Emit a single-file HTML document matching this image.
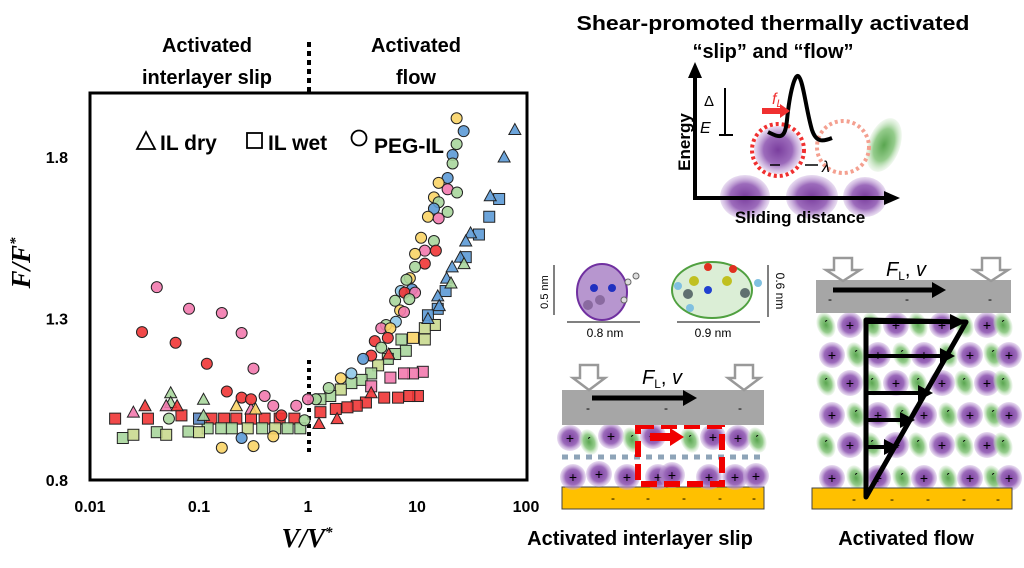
<!DOCTYPE html>
<html><head><meta charset="utf-8"><style>
html,body{margin:0;padding:0;background:#fff;}
svg{display:block;font-family:"Liberation Sans",sans-serif;}
.b{font-weight:bold;}
</style></head><body>
<svg id="fig" width="1024" height="568" viewBox="0 0 1024 568">
<defs>
<radialGradient id="pur" cx="50%" cy="50%" r="50%"><stop offset="0" stop-color="#7a3e9e"/><stop offset="0.6" stop-color="#9c6bbb"/><stop offset="1" stop-color="#c7a9dc" stop-opacity="0.4"/></radialGradient>
<radialGradient id="grn" cx="50%" cy="50%" r="50%"><stop offset="0" stop-color="#5aa650"/><stop offset="0.6" stop-color="#95cc8c"/><stop offset="1" stop-color="#cfe8ca" stop-opacity="0.3"/></radialGradient>
</defs>
<g>
<text class="b" x="207" y="52" font-size="20" text-anchor="middle">Activated</text>
<text class="b" x="207" y="84" font-size="20" text-anchor="middle">interlayer slip</text>
<text class="b" x="416" y="52" font-size="20" text-anchor="middle">Activated</text>
<text class="b" x="416" y="84" font-size="20" text-anchor="middle">flow</text>
<line x1="309" y1="42" x2="309" y2="93" stroke="#000" stroke-width="4" stroke-dasharray="5,4"/>
</g>
<rect x="90" y="93" width="437" height="387" fill="none" stroke="#000" stroke-width="3"/>
<g id="yticks"></g>
<g id="xticks"></g>
<text x="30" y="263" font-size="27" font-weight="bold" font-style="italic" font-family="Liberation Serif,serif" text-anchor="middle" transform="rotate(-90 30 263)">F/F<tspan font-size="15" dy="-10">*</tspan></text>
<text x="307" y="547" font-size="27" font-weight="bold" font-style="italic" font-family="Liberation Serif,serif" text-anchor="middle">V/V<tspan font-size="15" dy="-10">*</tspan></text>
<line x1="309" y1="360" x2="309" y2="455" stroke="#000" stroke-width="4" stroke-dasharray="4,4"/>
<g id="marks"></g>
<g>
<polygon points="137,149 146,132 155,149" fill="none" stroke="#000" stroke-width="1.8"/>
<text class="b" x="160" y="150" font-size="21">IL dry</text>
<rect x="247" y="133" width="15" height="15" fill="none" stroke="#000" stroke-width="1.8"/>
<text class="b" x="268" y="150" font-size="21">IL wet</text>
<circle cx="359" cy="138" r="7.5" fill="none" stroke="#000" stroke-width="1.8"/>
<text class="b" x="374" y="153" font-size="21">PEG-IL</text>
</g>

<text class="b" x="773" y="30" font-size="20" text-anchor="middle" textLength="393" lengthAdjust="spacingAndGlyphs">Shear-promoted thermally activated</text>
<text class="b" x="773" y="58" font-size="20" text-anchor="middle">“slip” and “flow”</text>
<g>
<ellipse cx="745" cy="197" rx="25" ry="22" fill="url(#pur)"/>
<ellipse cx="812" cy="197" rx="26" ry="22" fill="url(#pur)"/>
<ellipse cx="865" cy="197" rx="22" ry="20" fill="url(#pur)"/>
<ellipse cx="884" cy="145" rx="16" ry="28" transform="rotate(20 884 145)" fill="url(#grn)"/>
<circle cx="778" cy="150" r="24" fill="url(#pur)"/>
<circle cx="778" cy="150" r="26" fill="none" stroke="#f03030" stroke-width="4" stroke-dasharray="3,3"/>
<circle cx="843" cy="147" r="26" fill="none" stroke="#f4a090" stroke-width="4" stroke-dasharray="3,3"/>
<path d="M768,132 C780,138 785,140 787,120 C790,90 795,75 798,76 C803,78 806,110 812,130 C816,142 822,142 832,138" fill="none" stroke="#000" stroke-width="4"/>
<path d="M695,200 L695,72" stroke="#000" stroke-width="4"/><polygon points="688,78 695,62 702,78"/>
<path d="M693,198 L888,198" stroke="#000" stroke-width="4"/><polygon points="884,191 900,198 884,205"/>
<text class="b" x="690" y="142" font-size="17" text-anchor="middle" transform="rotate(-90 690 142)">Energy</text>
<text class="b" x="800" y="223" font-size="17" text-anchor="middle">Sliding distance</text>
<text x="704" y="106" font-size="15">Δ</text><text x="700" y="133" font-size="16" font-style="italic">E</text>
<line x1="725" y1="88" x2="725" y2="134" stroke="#000" stroke-width="2"/><line x1="719" y1="135" x2="733" y2="135" stroke="#000" stroke-width="2"/>
<text x="772" y="104" font-size="16" font-style="italic" fill="#f03030">f<tspan font-size="11" dy="3">L</tspan></text>
<polygon points="762,108 780,108 780,104 790,111 780,118 780,114 762,114" fill="#f03030"/>
<text x="822" y="172" font-size="16" font-style="italic">λ</text>
<line x1="805" y1="165" x2="818" y2="165" stroke="#000" stroke-width="1.5"/><line x1="770" y1="165" x2="780" y2="165" stroke="#000" stroke-width="1.5"/>
</g>

<g>
<ellipse cx="602" cy="292" rx="25" ry="28" fill="#b796cf" stroke="#7030a0" stroke-width="2"/>
<circle cx="594" cy="288" r="4" fill="#2030c0"/><circle cx="612" cy="288" r="4" fill="#2030c0"/>
<circle cx="600" cy="300" r="5" fill="#8a6aa0"/><circle cx="588" cy="305" r="5" fill="#8a6aa0"/>
<circle cx="628" cy="282" r="3" fill="#ddd" stroke="#666"/><circle cx="636" cy="276" r="3" fill="#ddd" stroke="#666"/><circle cx="624" cy="300" r="3" fill="#ddd" stroke="#666"/>
<line x1="567" y1="322" x2="640" y2="322" stroke="#000"/>
<text x="605" y="337" font-size="12" text-anchor="middle">0.8 nm</text>
<line x1="554" y1="265" x2="554" y2="315" stroke="#000"/>
<text x="548" y="292" font-size="11" text-anchor="middle" transform="rotate(-90 548 292)">0.5 nm</text>
</g>
<g>
<ellipse cx="712" cy="290" rx="40" ry="28" fill="#dbeed6" stroke="#50a040" stroke-width="2"/>
<circle cx="708" cy="290" r="4" fill="#2040d0"/><circle cx="694" cy="281" r="5" fill="#c0c020"/><circle cx="727" cy="281" r="5" fill="#c0c020"/>
<circle cx="708" cy="267" r="4" fill="#e03020"/><circle cx="733" cy="269" r="4" fill="#e03020"/>
<circle cx="688" cy="294" r="5" fill="#607070"/><circle cx="745" cy="293" r="5" fill="#607070"/>
<circle cx="678" cy="286" r="4" fill="#80c0e0"/><circle cx="690" cy="308" r="4" fill="#80c0e0"/><circle cx="758" cy="283" r="4" fill="#80c0e0"/>
<line x1="677" y1="322" x2="760" y2="322" stroke="#000"/>
<text x="713" y="337" font-size="12" text-anchor="middle">0.9 nm</text>
<line x1="768" y1="265" x2="768" y2="317" stroke="#000"/>
<text x="776" y="291" font-size="12" text-anchor="middle" transform="rotate(90 776 291)">0.6 nm</text>
</g>

<g id="slip">
<rect x="562" y="487" width="202" height="22" fill="#ffc000" stroke="#444" stroke-width="1"/>
<g id="slipParticles"></g>
<line x1="562" y1="457" x2="766" y2="457" stroke="#8ea4b8" stroke-width="5" stroke-dasharray="6,6"/>
<rect x="638" y="426" width="84" height="58" fill="none" stroke="#f00000" stroke-width="6" stroke-dasharray="16,7"/>
<polygon points="650,433 670,433 670,428 684,437 670,446 670,441 650,441" fill="#f00000"/>
<rect x="562" y="390" width="202" height="35" fill="#a6a6a6"/>
<line x1="592" y1="398" x2="685" y2="398" stroke="#000" stroke-width="5"/><polygon points="683,390 697,398 683,406"/>
<polygon points="580,365 598,365 598,378 605,378 589,390 573,378 580,378" fill="#fff" stroke="#999" stroke-width="2.5"/>
<polygon points="735,365 753,365 753,378 760,378 744,390 728,378 735,378" fill="#fff" stroke="#999" stroke-width="2.5"/>
<text x="642" y="384" font-size="20" font-style="italic">F<tspan font-size="12" dy="4" font-style="normal">L</tspan><tspan dy="-4" font-style="normal">, </tspan>v</text>
<text x="586" y="412" font-size="12">-</text><text x="664" y="412" font-size="12">-</text><text x="738" y="412" font-size="12">-</text>
<text x="611" y="502" font-size="12">-</text><text x="646" y="502" font-size="12">-</text><text x="682" y="502" font-size="12">-</text><text x="718" y="502" font-size="12">-</text><text x="752" y="502" font-size="12">-</text>
<text class="b" x="640" y="545" font-size="20" text-anchor="middle">Activated interlayer slip</text>
</g>

<g id="flow">
<g id="flowParticles"></g>
<rect x="812" y="488" width="200" height="21" fill="#ffc000" stroke="#444" stroke-width="1"/>
<rect x="816" y="280" width="195" height="33" fill="#a6a6a6"/>
<line x1="833" y1="290" x2="935" y2="290" stroke="#000" stroke-width="5"/><polygon points="932,282 946,290 932,298"/>
<polygon points="834,258 852,258 852,270 860,270 843,281 826,270 834,270" fill="#fff" stroke="#999" stroke-width="2.5"/>
<polygon points="982,258 1000,258 1000,270 1008,270 991,281 974,270 982,270" fill="#fff" stroke="#999" stroke-width="2.5"/>
<text x="886" y="276" font-size="20" font-style="italic">F<tspan font-size="12" dy="4" font-style="normal">L</tspan><tspan dy="-4" font-style="normal">, </tspan>v</text>
<polygon points="866,497 866,320 966,322" fill="none" stroke="#000" stroke-width="5" stroke-linejoin="round"/>
<g stroke="#000" stroke-width="4">
<line x1="866" y1="356" x2="942" y2="356"/><line x1="866" y1="393" x2="922" y2="393"/><line x1="866" y1="420" x2="905" y2="420"/><line x1="866" y1="447" x2="890" y2="447"/><line x1="866" y1="322" x2="955" y2="322"/>
</g>
<polygon points="940,348 955,356 940,364"/><polygon points="918,385 933,393 918,401"/><polygon points="900,412 915,420 900,428"/><polygon points="884,439 899,447 884,455"/><polygon points="950,314 966,322 950,330"/>
<text x="828" y="303" font-size="12">-</text><text x="905" y="303" font-size="12">-</text><text x="988" y="303" font-size="12">-</text>
<text x="852" y="503" font-size="12">-</text><text x="890" y="503" font-size="12">-</text><text x="926" y="503" font-size="12">-</text><text x="962" y="503" font-size="12">-</text><text x="996" y="503" font-size="12">-</text>
<text class="b" x="906" y="545" font-size="20" text-anchor="middle">Activated flow</text>
</g>
</svg>
<script>
const yTicks = [0.8, 1.3, 1.8];
const xTicks = [0.01, 0.1, 1, 10, 100];
const xTickLabels = ["0.01", "0.1", "1", "10", "100"];
const circV = [0.041,0.081,0.162,0.246,0.316,0.030,0.061,0.118,0.18,0.246,0.3,0.162,0.316,0.48,0.053,0.246,
 23.1,26.8,23.1,21.2,21.2,19.1,15.8,19.1,23.3,14.3,15.8,14.3,19.1,12.6,15.8,10.9,14.3,14.9,11.8,9.6,11.8,9.6,8.6,8.0,7.1,9.0,7.7,9.6,8.5,6.3,7.0,7.6,6.4,5.2,4.7,5.7,5.4,4.1,4.7,3.8,3.2,2.5,2.0,1.55,1.18,1.0,0.78,0.48,0.40,0.57,0.93];
const circF = [1.397,1.33,1.317,1.255,1.145,1.258,1.225,1.16,1.074,1.055,1.05,0.90,0.905,0.935,0.99,0.93,
 1.92,1.88,1.84,1.806,1.78,1.735,1.72,1.70,1.69,1.675,1.66,1.64,1.63,1.615,1.61,1.55,1.54,1.51,1.51,1.50,1.47,1.46,1.425,1.42,1.385,1.39,1.38,1.38,1.36,1.355,1.325,1.32,1.29,1.28,1.27,1.27,1.24,1.23,1.21,1.185,1.175,1.13,1.115,1.085,1.05,1.05,1.03,1.03,1.06,1.0,0.985];
const circC = "ppppprrrrrryyygbybgbgbypgygbgypyg rpyrgyglbrpgg yplgpyrrgrblyggpppprg".replace(/ /g,"");
const sqV = [56.7,46,37,28,18.3,15.5,12.6,14.6,11.8,11.8,9.2,7.2,7.9,6.3,5.4,4.4,3.8,3.1,2.5,2.0,1.6,1.3,
 11.3,9.2,7.6,5.7,3.8,10.2,8.5,6.7,5.0,3.4,2.8,2.3,1.8,1.3,
 0.10,0.13,0.17,0.22,0.3,0.4,0.55,0.75,0.12,0.16,0.2,0.28,0.38,0.5,0.65,0.85,
 0.017,0.034,0.069,0.020,0.025,0.041,0.05,0.08,0.1,0.1];
const sqF = [1.67,1.615,1.56,1.49,1.385,1.33,1.31,1.28,1.27,1.235,1.24,1.235,1.20,1.19,1.175,1.155,1.13,1.11,1.10,1.08,1.06,1.05,
 1.135,1.13,1.13,1.117,1.09,1.06,1.06,1.055,1.055,1.04,1.03,1.025,1.02,1.01,
 0.99,0.99,0.99,0.99,0.99,0.99,0.99,0.99,0.96,0.96,0.96,0.96,0.96,0.96,0.96,0.96,
 0.99,0.99,1.0,0.93,0.94,0.948,0.94,0.95,0.948,0.99];
const sqC = "bbbbbbboooyggggogggogg"+"ppppp"+"rrrrrrrrr"+"rrrrrrrr"+"gggogogg"+"rrrgogogob";
const triV = [79,63,47,31,28,25,21,18.7,20.5,27,15.5,16,12.6,5.5,3.8,
 0.025,0.032,0.055,0.055,0.05,0.063,0.11,0.11,0.22,0.3,0.33,1.26,1.85];
const triF = [1.885,1.80,1.68,1.565,1.54,1.49,1.46,1.425,1.41,1.47,1.37,1.34,1.30,1.19,1.07,
 1.01,1.03,1.07,1.04,1.03,1.03,1.05,1.0,1.03,1.02,1.02,0.975,0.99];
const triC = "bbbbbbbbggbbbrr"+"prggprggypyrr";
const colors = {r:"#f03535",p:"#f27aae",y:"#f9d466",g:"#a8d69c",b:"#5c9ad6",o:"#c9d98f",l:"#8fc8e8"};

const NS = "http://www.w3.org/2000/svg";
function xScale(v){ return 90 + (Math.log10(v) + 2) * 109; }
function yScale(v){ return 480 - (v - 0.8) * 323; }
function mk(tag, attrs, parent){ const e = document.createElementNS(NS, tag); for (const k in attrs) e.setAttribute(k, attrs[k]); parent.appendChild(e); return e; }

const yt = document.getElementById('yticks');
yTicks.forEach(v => {
  const t = mk('text', {x: 68, y: yScale(v) + 6, 'font-size': 16, 'text-anchor': 'end', 'font-weight': 'bold'}, yt);
  t.textContent = v.toFixed(1);
  
  
});
const xt = document.getElementById('xticks');
xTicks.forEach((v, i) => {
  const t = mk('text', {x: xScale(v), y: 512, 'font-size': 16, 'text-anchor': 'middle', 'font-weight': 'bold'}, xt);
  t.textContent = xTickLabels[i];
  
  
});
const g = document.getElementById('marks');
const base = {stroke: '#222', 'stroke-width': 1, 'fill-opacity': 0.9};
function circ(i){
  const x = xScale(circV[i]), y = yScale(circF[i]);
  const e = mk('circle', Object.assign({cx: x, cy: y, r: 5.5, fill: colors[circC[i]] || '#f27aae'}, base), g);
  
  
}
function sq(i){
  const x = xScale(sqV[i]), y = yScale(sqF[i]);
  const e = mk('rect', Object.assign({x: x - 5.5, y: y - 5.5, width: 11, height: 11, fill: colors[sqC[i]] || '#f03535'}, base), g);
  
  
}
function tri(i){
  const x = xScale(triV[i]), y = yScale(triF[i]);
  const e = mk('polygon', Object.assign({points: (x-6)+','+(y+5)+' '+x+','+(y-6)+' '+(x+6)+','+(y+5), fill: colors[triC[i]] || '#f03535'}, base), g);
  
  
}
sqV.forEach((_, i) => sq(i));
triV.forEach((_, i) => tri(i));
circV.forEach((_, i) => circ(i));

function particle(parent, x, y, kind, r){
  mk('ellipse', {cx: x, cy: y, rx: kind === 'p' ? r : r*0.7, ry: r, fill: kind === 'p' ? 'url(#pur)' : 'url(#grn)', transform: kind === 'g' ? 'rotate(-20 '+x+' '+y+')' : ''}, parent);
  const t = mk('text', {x: x, y: y + 5, 'font-size': 14, 'text-anchor': 'middle'}, parent);
  t.textContent = kind === 'p' ? '+' : '\u02CA';
}
const sp = document.getElementById('slipParticles');
[[570,438,'p'],[589,442,'g'],[611,436,'p'],[632,440,'g'],[653,436,'p'],[690,440,'g'],[713,437,'p'],[738,438,'p'],[757,440,'g'],
 [573,477,'p'],[599,474,'p'],[627,477,'p'],[658,477,'p'],[672,475,'p'],[709,477,'p'],[735,477,'p'],[756,476,'p']].forEach(a => particle(sp, a[0], a[1], a[2], 13));
const fp = document.getElementById('flowParticles');
const fcols = [826,850,872,896,918,942,964,987,1003];
const frows = [325,355,383,415,445,478];
frows.forEach((yy, ri) => fcols.forEach((xx, ci) => particle(fp, xx + (ri%2)*6, yy, (ri+ci)%2 ? 'p' : 'g', 13)));
</script>
</body></html>
